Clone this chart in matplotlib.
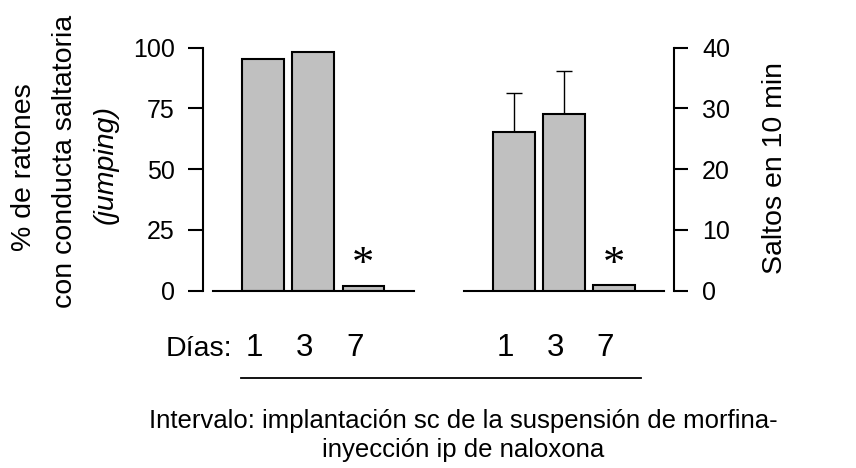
import matplotlib
matplotlib.use("Agg")
import matplotlib.pyplot as plt

plt.rcParams['font.family'] = ['Liberation Sans', 'DejaVu Sans']

days = ["1", "3", "7"]
pct_jumping = [95.3, 98.4, 2.1]
jumps = [26.1, 29.1, 0.9]
jumps_err = [6.5, 7.0, 0.0]
left_ticks = [0, 25, 50, 75, 100]
right_ticks = [0, 10, 20, 30, 40]
sig_marks = ["*", "*"]

W, H = 856, 468
fig = plt.figure(figsize=(W / 100, H / 100), dpi=100)

ax_l, ax_r_px, y0_px, y1_px = 203, 674.3, 290.7, 47.7
ax = fig.add_axes([ax_l / W, 1 - y0_px / H, (ax_r_px - ax_l) / W, (y0_px - y1_px) / H])
ax2 = ax.twinx()

xl = [0, 1, 2]
xr = [5, 6, 7]
bw = 0.83
face = "#c0c0c0"
lw = 1.5

ax.bar(xl, pct_jumping, width=bw, color=face, edgecolor="black", linewidth=lw, zorder=3)
ax2.bar(xr, jumps, width=bw, color=face, edgecolor="black", linewidth=lw, zorder=3)
ax2.errorbar(xr[:2], jumps[:2], yerr=[[0, 0], jumps_err[:2]], fmt="none",
             ecolor="black", elinewidth=1.0, capsize=5.5, capthick=1.0, zorder=2)

ax.set_xlim(-1.2, 8.2)
ax.set_ylim(0, 100)
ax2.set_ylim(0, 40)

# baselines
ax.plot([-1, 3], [0, 0], color="black", lw=lw, clip_on=False, zorder=4)
ax.plot([4, 8], [0, 0], color="black", lw=lw, clip_on=False, zorder=4)

for a in (ax, ax2):
    a.spines['top'].set_visible(False)
    a.spines['bottom'].set_visible(False)
    a.set_xticks([])
    a.patch.set_visible(False)
ax.spines['right'].set_visible(False)
ax2.spines['left'].set_visible(False)
ax.spines['left'].set_linewidth(lw)
ax2.spines['right'].set_linewidth(lw)

ax.set_yticks(left_ticks)
ax.set_yticklabels([str(t) for t in left_ticks])
ax2.set_yticks(right_ticks)
ax2.set_yticklabels([str(t) for t in right_ticks])
ax.tick_params(axis='y', length=10.5, width=lw, labelsize=18, pad=10)
ax2.tick_params(axis='y', length=10, width=lw, labelsize=18, pad=10)

# significance asterisks
ax.text(xl[2], 10.5, sig_marks[0], ha="center", va="center", fontsize=32,
        family="Liberation Serif")
ax2.text(xr[2], 4.2, sig_marks[1], ha="center", va="center", fontsize=32,
         family="Liberation Serif")

# left y label (three lines)
fig.text(24 / W, 1 - 167 / H, "% de ratones", rotation=90, ha="center", va="center", fontsize=20.5)
fig.text(65 / W, 1 - 161.5 / H, "con conducta saltatoria", rotation=90, ha="center", va="center", fontsize=20.5)
fig.text(106 / W, 1 - 164 / H, "(jumping)", rotation=90, ha="center", va="center", fontsize=20.5,
         style="italic")

# right y label
fig.text(775 / W, 1 - 168 / H, "Saltos en 10 min", rotation=90, ha="center", va="center", fontsize=20.5)

# day labels
base_y = -(356 - y0_px) / (y0_px - y1_px)
trans = ax.get_xaxis_transform()
fig.text(232 / W, 1 - 356 / H, "Días:", ha="right", va="baseline", fontsize=20.5)
for i, d in enumerate(days):
    ax.text(xl[i] - 0.17, base_y, d, transform=trans, ha="center", va="baseline",
            fontsize=22.5, clip_on=False)
    ax.text(xr[i] - 0.17, base_y, d, transform=trans, ha="center", va="baseline",
            fontsize=22.5, clip_on=False)

# underline
fig.add_artist(plt.Line2D([241 / W, 641 / W], [1 - 377.5 / H, 1 - 377.5 / H],
                          color="black", lw=1.3))

fig.text(463 / W, 1 - 428 / H, "Intervalo: implantación sc de la suspensión de morfina-",
         ha="center", va="baseline", fontsize=18.5)
fig.text(463.5 / W, 1 - 457 / H, "inyección ip de naloxona",
         ha="center", va="baseline", fontsize=18.5)

fig.savefig("out.png", dpi=100)
